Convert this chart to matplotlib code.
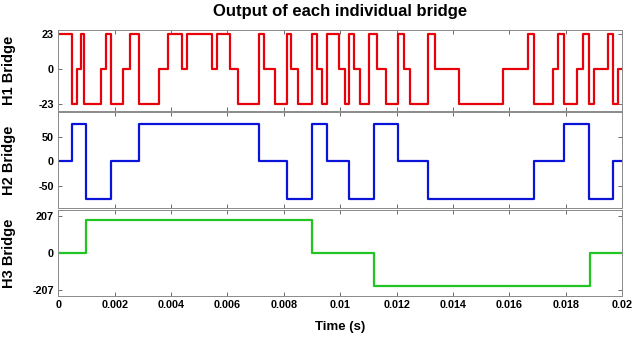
import numpy as np
import matplotlib
matplotlib.use("Agg")
import matplotlib.pyplot as plt

plt.rcParams['font.family'] = ['Liberation Sans', 'DejaVu Sans']
plt.rcParams['axes.unicode_minus'] = False

# switching instants (ms) and the level held after each instant
h1_start = 23
h1_switch_ms = [0.475, 0.652, 0.816, 0.929, 1.504, 1.691, 1.869, 2.284, 2.560, 2.872,
                3.589, 3.890, 4.387, 4.564, 5.450, 5.628, 6.099, 6.379, 7.117, 7.312,
                7.684, 8.099, 8.270, 8.500, 8.996, 9.163, 9.340, 9.518, 9.972, 10.167,
                10.309, 10.486, 10.699, 11.028, 11.312, 11.621, 12.064, 12.259, 12.479, 13.117,
                13.351, 14.227, 15.777, 16.663, 16.887, 17.532, 17.730, 17.933, 18.404, 18.617,
                18.830, 18.996, 19.504, 19.681, 19.858]
h1_levels = [-23, 0, 23, -23, 0, 23, -23, 0, 23, -23,
             0, 23, 0, 23, 0, 23, 0, -23, 23, 0,
             -23, 23, 0, -23, 23, 0, -23, 23, 0, -23,
             23, 0, -23, 23, 0, -23, 23, 0, -23, 23,
             0, -23, 0, 23, -23, 0, 23, -23, 0, 23,
             -23, 0, 23, -23, 0]

h2_start = 0
h2_switch_ms = [0.475, 1.00, 1.869, 2.872, 7.117, 8.10, 8.996, 9.518, 10.31, 11.19,
                12.064, 13.117, 16.887, 17.933, 18.830, 19.681]
h2_levels = [76, -76, 0, 76, 0, -76, 76, 0, -76, 76,
             0, -76, 0, 76, -76, 0]

h3_start = 0
h3_switch_ms = [1.0, 9.0, 11.2, 18.85]
h3_levels = [186, 0, -186, 0]

t_end = 0.02
x_ticks = [0, 0.002, 0.004, 0.006, 0.008, 0.01, 0.012, 0.014, 0.016, 0.018, 0.02]
x_ticklabels = ["0", "0.002", "0.004", "0.006", "0.008", "0.01", "0.012", "0.014", "0.016", "0.018", "0.02"]

panels = [
    ("H1 Bridge", h1_start, h1_switch_ms, h1_levels, "#e8000b", [-23, 0, 23], ["-23", "0", "23"], (-27.6, 25.6)),
    ("H2 Bridge", h2_start, h2_switch_ms, h2_levels, "#0a14d8", [-50, 0, 50], ["-50", "0", "50"], (-94, 100)),
    ("H3 Bridge", h3_start, h3_switch_ms, h3_levels, "#22c422", [-207, 0, 207], ["-207", "0", "207"], (-240, 240)),
]

fig = plt.figure(figsize=(6.33, 3.41), dpi=100)
left, right = 0.092, 0.983
boxes = [(0.674, 0.912), (0.390, 0.672), (0.132, 0.384)]

for (name, start, sw, lv, color, yt, ytl, ylim), (b, t) in zip(panels, boxes):
    ax = fig.add_axes([left, b, right - left, t - b])
    times = np.concatenate([[0.0], np.array(sw) * 1e-3, [t_end]])
    vals = np.concatenate([[start], lv, [lv[-1]]])
    ax.step(times, vals, where="post", color=color, lw=1.6)
    ax.set_xlim(0, t_end)
    ax.set_ylim(*ylim)
    ax.set_xticks(x_ticks)
    ax.set_yticks(yt)
    ax.set_yticklabels(ytl, fontsize=7.8, fontweight="bold")
    ax.tick_params(direction="in", length=3, width=0.6, color="#555555",
                   top=True, right=True, pad=3)
    for s in ax.spines.values():
        s.set_color("#8a8a8a")
        s.set_linewidth(0.7)
    ax.set_ylabel(name, fontsize=10.5, fontweight="bold")
    ax.yaxis.set_label_coords(-0.075, 0.5)
    if name == "H3 Bridge":
        ax.set_xticklabels(x_ticklabels, fontsize=7.8, fontweight="bold")
    else:
        ax.set_xticklabels([])

fig.text(0.537, 0.965, "Output of each individual bridge", ha="center", va="center",
         fontsize=12, fontweight="bold")
fig.text(0.537, 0.041, "Time (s)", ha="center", va="center", fontsize=9.5, fontweight="bold")

fig.savefig("out.png", dpi=100)
